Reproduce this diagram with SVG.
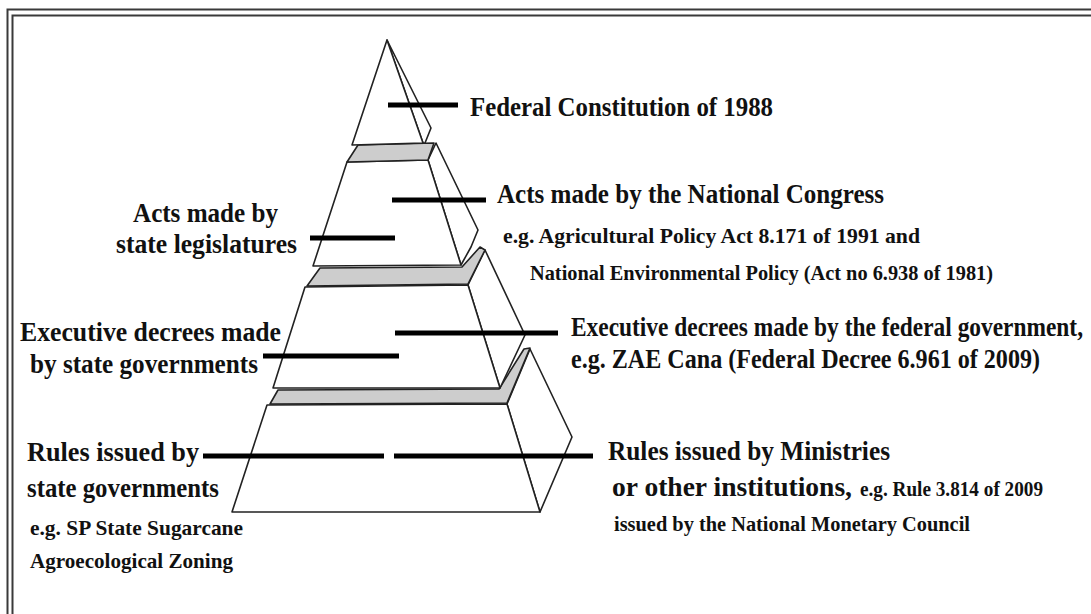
<svg xmlns="http://www.w3.org/2000/svg" width="1091" height="614" viewBox="0 0 1091 614">
<style>
.frame{fill:none;stroke:#3a3a3a;stroke-width:2}
.face{fill:#fff;stroke:#222;stroke-width:1.6;stroke-linejoin:round}
.slab{fill:#cdcdcd;stroke:#222;stroke-width:1.6;stroke-linejoin:round}
.conn{stroke:#000;stroke-width:5;fill:none}
.big{font-family:"Liberation Serif","Times New Roman",serif;font-weight:bold;font-size:28px;fill:#111}
.small{font-family:"Liberation Serif","Times New Roman",serif;font-weight:bold;font-size:22px;fill:#111}
</style>
<rect width="1091" height="614" fill="#fff"/>
<rect class="frame" x="7.5" y="9.5" width="1100" height="620"/>
<rect class="frame" x="12.5" y="15.5" width="1100" height="620"/>

<g id="pyramid">
  <g id="tier4">
    <polygon class="face" points="507,404 530,349 572,437 540,512"/>
    <polygon class="face" points="267,405 507,404 540,512 232,512"/>
  </g>
  <g id="slab3">
    <polygon class="slab" points="278,390 499,389 524,349 530,348 507,403 270,404"/>
  </g>
  <g id="tier3">
    <polygon class="face" points="468,285 485,250 525,335 500,388"/>
    <polygon class="face" points="305,287 468,285 500,388 273,388"/>
  </g>
  <g id="slab2">
    <polygon class="slab" points="320,268 462,267 480,247 485,250 468,284 307,286"/>
  </g>
  <g id="tier2">
    <polygon class="face" points="428,160 436,143 478,230 471,247 461,265"/>
    <polygon class="face" points="347,162 428,160 461,265 313,266"/>
  </g>
  <g id="slab1">
    <polygon class="slab" points="358,145 434,143 428,160 347,162"/>
  </g>
  <g id="tier1">
    <polygon class="face" points="387,40 431,128 425,143 423,143"/>
    <polygon class="face" points="387,40 423,143 352,145"/>
  </g>
</g>

<g id="connectors">
  <line class="conn" x1="388" y1="105" x2="458" y2="105"/>
  <line class="conn" x1="392" y1="200" x2="486" y2="200"/>
  <line class="conn" x1="310" y1="238" x2="395" y2="238"/>
  <line class="conn" x1="395" y1="333" x2="558" y2="333"/>
  <line class="conn" x1="263" y1="356" x2="399" y2="356"/>
  <line class="conn" x1="203" y1="456" x2="384" y2="456"/>
  <line class="conn" x1="394" y1="456" x2="593" y2="456"/>
</g>

<g id="label-federal-constitution">
  <text class="big" x="470" y="116" textLength="303" lengthAdjust="spacingAndGlyphs">Federal Constitution of 1988</text>
</g>
<g id="label-national-congress">
  <text class="big" x="497" y="203" textLength="387" lengthAdjust="spacingAndGlyphs">Acts made by the National Congress</text>
  <text class="small" x="503" y="243" textLength="417" lengthAdjust="spacingAndGlyphs">e.g. Agricultural Policy Act  8.171 of 1991  and</text>
  <text class="small" x="530" y="280" textLength="463" lengthAdjust="spacingAndGlyphs">National Environmental Policy (Act no 6.938 of 1981)</text>
</g>
<g id="label-state-legislatures">
  <text class="big" x="133" y="222" textLength="145" lengthAdjust="spacingAndGlyphs">Acts made by</text>
  <text class="big" x="116" y="253" textLength="181" lengthAdjust="spacingAndGlyphs">state legislatures</text>
</g>
<g id="label-federal-decrees">
  <text class="big" x="571" y="336" textLength="512" lengthAdjust="spacingAndGlyphs">Executive decrees made by the federal government,</text>
  <text class="big" x="571" y="368" textLength="469" lengthAdjust="spacingAndGlyphs">e.g. ZAE Cana (Federal Decree 6.961 of 2009)</text>
</g>
<g id="label-state-decrees">
  <text class="big" x="20" y="341" textLength="261" lengthAdjust="spacingAndGlyphs">Executive decrees made</text>
  <text class="big" x="30" y="373" textLength="228" lengthAdjust="spacingAndGlyphs">by state governments</text>
</g>
<g id="label-state-rules">
  <text class="big" x="27" y="461" textLength="172" lengthAdjust="spacingAndGlyphs">Rules issued by</text>
  <text class="big" x="27" y="497" textLength="192" lengthAdjust="spacingAndGlyphs">state governments</text>
  <text class="small" x="30" y="535" textLength="213" lengthAdjust="spacingAndGlyphs">e.g. SP State Sugarcane</text>
  <text class="small" x="30" y="568" textLength="203" lengthAdjust="spacingAndGlyphs">Agroecological Zoning</text>
</g>
<g id="label-ministries">
  <text class="big" x="608" y="460" textLength="282" lengthAdjust="spacingAndGlyphs">Rules issued by Ministries</text>
  <text class="big" x="612" y="496" textLength="240" lengthAdjust="spacingAndGlyphs">or other institutions,</text>
  <text class="small" x="860" y="496" textLength="183" lengthAdjust="spacingAndGlyphs">e.g. Rule 3.814 of 2009</text>
  <text class="small" x="614" y="531" textLength="356" lengthAdjust="spacingAndGlyphs">issued by the National Monetary Council</text>
</g>
</svg>
